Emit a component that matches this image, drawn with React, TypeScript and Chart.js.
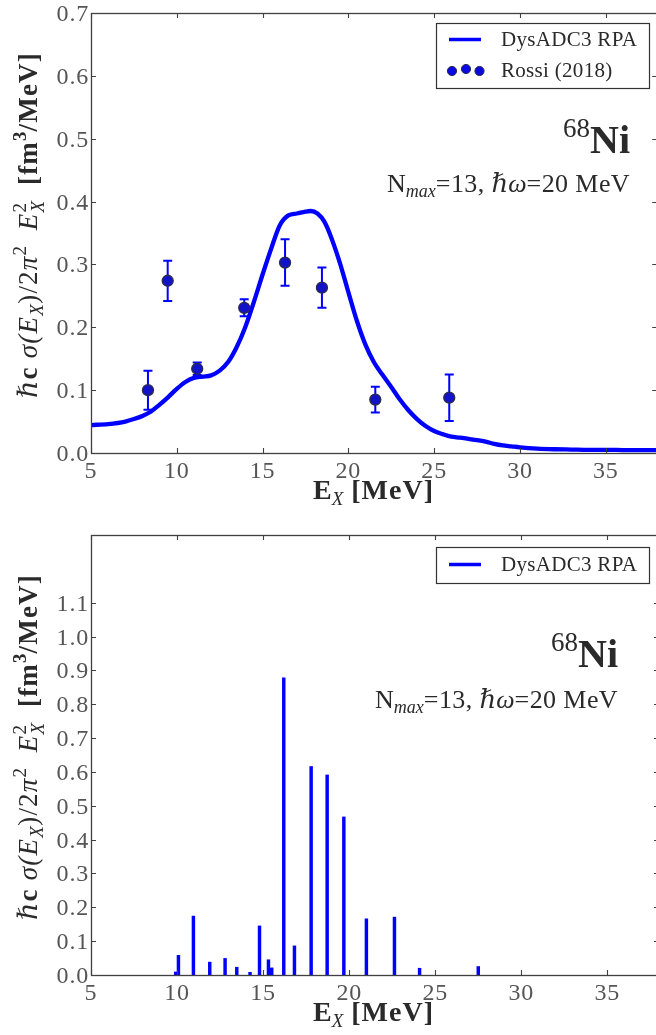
import React, { useEffect, useRef } from "react";
import { Chart, registerables } from "chart.js";

Chart.register(...registerables);

// ---------------- data ----------------
const X_TICKS = [5, 10, 15, 20, 25, 30, 35];
const X_TICK_LABELS = ["5", "10", "15", "20", "25", "30", "35"];

const TOP_Y_TICKS = [0, 0.1, 0.2, 0.3, 0.4, 0.5, 0.6, 0.7];
const TOP_Y_TICK_LABELS = ["0.0", "0.1", "0.2", "0.3", "0.4", "0.5", "0.6", "0.7"];

const BOTTOM_Y_TICKS = [0, 0.1, 0.2, 0.3, 0.4, 0.5, 0.6, 0.7, 0.8, 0.9, 1.0, 1.1];
const BOTTOM_Y_TICK_LABELS = ["0.0", "0.1", "0.2", "0.3", "0.4", "0.5", "0.6", "0.7", "0.8", "0.9", "1.0", "1.1"];

// DysADC3 RPA folded strength (top panel)
const CURVE_E = [5, 6, 7, 7.5, 8, 8.5, 9, 9.5, 10, 10.5, 11, 11.5, 12, 12.5, 13, 13.5, 14, 14.5, 15, 15.5, 16, 16.5, 17, 17.5, 17.8, 18.2, 18.6, 19, 19.5, 20, 20.5, 21, 21.5, 22, 22.5, 23, 23.5, 24, 24.5, 25, 25.5, 26, 26.5, 27, 27.5, 28, 28.5, 29, 29.5, 30, 31, 32, 33, 34, 35, 36, 37, 38];
const CURVE_Y = [0.0445, 0.046, 0.05, 0.054, 0.059, 0.066, 0.077, 0.089, 0.102, 0.113, 0.1195, 0.1215, 0.1235, 0.131, 0.145, 0.169, 0.201, 0.241, 0.284, 0.325, 0.362, 0.378, 0.381, 0.384, 0.385, 0.381, 0.368, 0.343, 0.303, 0.256, 0.21, 0.172, 0.144, 0.124, 0.105, 0.085, 0.068, 0.054, 0.043, 0.035, 0.03, 0.026, 0.0245, 0.0225, 0.0205, 0.018, 0.0145, 0.012, 0.0105, 0.009, 0.007, 0.006, 0.0055, 0.005, 0.005, 0.0047, 0.0045, 0.0045];

// Rossi (2018) experimental points
const ROSSI_E = [8.32, 9.47, 11.19, 13.93, 16.31, 18.46, 21.57, 25.88];
const ROSSI_Y = [0.1, 0.274, 0.134, 0.231, 0.303, 0.263, 0.085, 0.088];
const ROSSI_ERR = [0.031, 0.032, 0.01, 0.0135, 0.037, 0.032, 0.0205, 0.037];

// DysADC3 RPA discrete strengths (bottom panel)
const LINE_E = [9.92, 10.08, 10.95, 11.9, 12.79, 13.47, 14.24, 14.79, 15.31, 15.5, 16.2, 16.82, 17.79, 18.72, 19.69, 21.0, 22.63, 24.09, 27.5];
const LINE_S = [0.009, 0.058, 0.174, 0.038, 0.049, 0.023, 0.008, 0.145, 0.045, 0.021, 0.878, 0.086, 0.616, 0.591, 0.467, 0.166, 0.171, 0.02, 0.025];

const SERIES_CURVE = "DysADC3 RPA";
const SERIES_EXP = "Rossi (2018)";

// ---------------- styling helpers ----------------
const SERIF = "'Liberation Serif', 'DejaVu Serif', serif";
const BLUE = "#0000ff";
const TEXT = "#2a2a2a";
const TICK_TEXT = "#555555";
const AXIS = "#404040";

const f = (style: string, size: number) => `${style} ${size}px ${SERIF}`;

type Seg = { t: string; f: string; dy?: number; stack?: boolean; ls?: number };

function setLS(ctx: any, ls?: number) {
  try {
    ctx.letterSpacing = `${ls || 0}px`;
  } catch (e) {}
}

function layoutRich(ctx: CanvasRenderingContext2D, segs: Seg[]) {
  let x = 0;
  let prevStart = 0;
  const items: (Seg & { x: number })[] = [];
  for (const s of segs) {
    ctx.font = s.f;
    setLS(ctx, s.ls);
    const w = ctx.measureText(s.t).width;
    let start = x;
    if (s.stack) {
      start = prevStart;
      x = Math.max(x, start + w);
    } else {
      x = x + w;
    }
    items.push({ ...s, x: start });
    prevStart = start;
  }
  return { items, width: x };
}

function drawRich(
  ctx: CanvasRenderingContext2D,
  segs: Seg[],
  x: number,
  y: number,
  align: "left" | "center" | "right",
  color: string,
  rot = 0
) {
  ctx.save();
  const { items, width } = layoutRich(ctx, segs);
  ctx.translate(x, y);
  if (rot) ctx.rotate(rot);
  const off = align === "left" ? 0 : align === "center" ? -width / 2 : -width;
  ctx.textAlign = "left";
  ctx.textBaseline = "alphabetic";
  ctx.fillStyle = color;
  for (const it of items) {
    ctx.font = it.f;
    setLS(ctx, it.ls);
    ctx.fillText(it.t, off + it.x, it.dy || 0);
  }
  ctx.restore();
}

function yLabelSegs(S: number): Seg[] {
  const ls = 1.2;
  return [
    { t: "ℏ", f: f("italic", S), ls },
    { t: "c", f: f("bold", S), ls },
    { t: " σ(", f: f("italic", S), ls },
    { t: "E", f: f("italic", S), ls },
    { t: "X", f: f("italic", S * 0.7), dy: S * 0.22, ls: 0.5 },
    { t: ")/2", f: f("normal", S), ls },
    { t: "π", f: f("italic", S), ls },
    { t: "2", f: f("normal", S * 0.7), dy: -S * 0.42 },
    { t: "  E", f: f("italic", S), ls },
    { t: "2", f: f("normal", S * 0.7), dy: -S * 0.42 },
    { t: "X", f: f("italic", S * 0.7), dy: S * 0.25, stack: true },
    { t: "  [fm", f: f("bold", S), ls },
    { t: "3", f: f("bold", S * 0.7), dy: -S * 0.42 },
    { t: "/MeV]", f: f("bold", S), ls },
  ];
}

const X_TITLE: Seg[] = [
  { t: "E", f: f("bold", 28) },
  { t: "X", f: f("italic", 19), dy: 6 },
  { t: " [MeV]", f: f("bold", 28), ls: 1 },
];

const NI_SEGS: Seg[] = [
  { t: "68", f: f("normal", 27), dy: -16 },
  { t: "Ni", f: f("bold", 40) },
];

const NMAX_SEGS: Seg[] = [
  { t: "N", f: f("normal", 26) },
  { t: "max", f: f("italic", 18), dy: 5 },
  { t: "=13, ", f: f("normal", 26), ls: 0.4 },
  { t: "ℏω", f: f("italic", 26) },
  { t: "=20 MeV", f: f("normal", 26), ls: 0.4 },
];

interface PanelCfg {
  id: string;
  yTicks: number[];
  yTickLabels: string[];
  errors: boolean;
  legendTop: number;
  legendH: number;
  legendItems: { kind: "line" | "dots"; label: string; dy: number }[];
  niRight: number;
  niBase: number;
  nmaxBase: number;
}

function makeDecor(cfg: PanelCfg) {
  return {
    id: "decor-" + cfg.id,
    beforeDatasetDraw(chart: any, args: any) {
      if (!cfg.errors || args.index !== 0) return;
      const { ctx } = chart;
      const xs = chart.scales.x;
      const ys = chart.scales.y;
      ctx.save();
      ctx.strokeStyle = BLUE;
      ctx.lineWidth = 2;
      ROSSI_E.forEach((e, i) => {
        const px = xs.getPixelForValue(e);
        const y1 = ys.getPixelForValue(ROSSI_Y[i] - ROSSI_ERR[i]);
        const y2 = ys.getPixelForValue(ROSSI_Y[i] + ROSSI_ERR[i]);
        ctx.beginPath();
        ctx.moveTo(px, y1);
        ctx.lineTo(px, y2);
        ctx.moveTo(px - 4.5, y1);
        ctx.lineTo(px + 4.5, y1);
        ctx.moveTo(px - 4.5, y2);
        ctx.lineTo(px + 4.5, y2);
        ctx.stroke();
      });
      ctx.restore();
    },
    afterDraw(chart: any) {
      const { ctx, chartArea } = chart;
      const { left, right, top, bottom } = chartArea;
      const xs = chart.scales.x;
      const ys = chart.scales.y;
      ctx.save();
      // frame
      ctx.strokeStyle = AXIS;
      ctx.lineWidth = 1.3;
      ctx.strokeRect(left + 0.5, top + 0.5, right - left, bottom - top);
      // inward ticks
      ctx.lineWidth = 1.1;
      ctx.beginPath();
      const TL = 5;
      X_TICKS.forEach((v) => {
        const px = Math.round(xs.getPixelForValue(v)) + 0.5;
        ctx.moveTo(px, bottom);
        ctx.lineTo(px, bottom - TL);
        ctx.moveTo(px, top);
        ctx.lineTo(px, top + TL);
      });
      cfg.yTicks.forEach((v) => {
        const py = Math.round(ys.getPixelForValue(v)) + 0.5;
        ctx.moveTo(left, py);
        ctx.lineTo(left + TL, py);
        ctx.moveTo(right, py);
        ctx.lineTo(right - TL, py);
      });
      ctx.stroke();
      // tick labels
      ctx.fillStyle = TICK_TEXT;
      ctx.font = f("normal", 24);
      setLS(ctx, 0.8);
      ctx.textBaseline = "alphabetic";
      ctx.textAlign = "right";
      cfg.yTicks.forEach((v, i) => {
        const py = ys.getPixelForValue(v);
        ctx.fillText(cfg.yTickLabels[i], left - 2, py + 8);
      });
      ctx.textAlign = "center";
      X_TICKS.forEach((v, i) => {
        const px = xs.getPixelForValue(v);
        ctx.fillText(X_TICK_LABELS[i], px, bottom + 25);
      });
      setLS(ctx, 0);
      // axis titles
      drawRich(ctx, X_TITLE, (left + 656) / 2, bottom + 46, "center", TEXT);
      drawRich(ctx, yLabelSegs(27), left - 54, (top + bottom) / 2 - 8, "center", TEXT, -Math.PI / 2);
      // legend
      const lx = 436.5;
      const lw = 213;
      ctx.fillStyle = "#ffffff";
      ctx.fillRect(lx, cfg.legendTop, lw, cfg.legendH);
      ctx.strokeStyle = "#333333";
      ctx.lineWidth = 1.2;
      ctx.strokeRect(lx, cfg.legendTop, lw, cfg.legendH);
      cfg.legendItems.forEach((it) => {
        const cy = cfg.legendTop + it.dy;
        if (it.kind === "line") {
          ctx.strokeStyle = BLUE;
          ctx.lineWidth = 3.5;
          ctx.beginPath();
          ctx.moveTo(449, cy);
          ctx.lineTo(481, cy);
          ctx.stroke();
        } else {
          const pts = [
            [452, cy + 0.5],
            [466, cy - 1.5],
            [479.5, cy + 0.5],
          ];
          pts.forEach(([px, py]) => {
            ctx.beginPath();
            ctx.arc(px, py, 4.6, 0, Math.PI * 2);
            ctx.fillStyle = "#0a0ae0";
            ctx.fill();
            ctx.strokeStyle = "#2b2b4a";
            ctx.lineWidth = 1;
            ctx.stroke();
          });
        }
        ctx.fillStyle = TEXT;
        ctx.font = f("normal", 21);
        setLS(ctx, 0.3);
        ctx.textAlign = "left";
        ctx.textBaseline = "middle";
        ctx.fillText(it.label, 501, cy + 1);
        setLS(ctx, 0);
      });
      // annotations
      drawRich(ctx, NI_SEGS, cfg.niRight, cfg.niBase, "right", TEXT);
      drawRich(ctx, NMAX_SEGS, cfg.niRight, cfg.nmaxBase, "right", TEXT);
      ctx.restore();
    },
  };
}

export default function App() {
  const topRef = useRef<HTMLCanvasElement>(null);
  const botRef = useRef<HTMLCanvasElement>(null);

  useEffect(() => {
    const common = {
      animation: false as const,
      responsive: false,
      devicePixelRatio: 1,
      events: [] as any[],
      plugins: { legend: { display: false }, tooltip: { enabled: false } },
    };

    const topChart = new Chart(topRef.current as HTMLCanvasElement, {
      type: "scatter",
      data: {
        datasets: [
          {
            type: "scatter",
            label: SERIES_EXP,
            data: ROSSI_E.map((e, i) => ({ x: e, y: ROSSI_Y[i] })),
            pointRadius: 5.5,
            pointBackgroundColor: "#1212c8",
            pointBorderColor: "#2b2b4a",
            pointBorderWidth: 1.3,
          } as any,
          {
            type: "line",
            label: SERIES_CURVE,
            data: CURVE_E.map((e, i) => ({ x: e, y: CURVE_Y[i] })),
            borderColor: BLUE,
            borderWidth: 4.3,
            pointRadius: 0,
            fill: false,
            cubicInterpolationMode: "monotone",
          } as any,
        ],
      },
      options: {
        ...common,
        layout: { padding: { left: 91, top: 13, right: 5, bottom: 64 } },
        scales: {
          x: { type: "linear", min: 5, max: 38, display: false, offset: false },
          y: { type: "linear", min: 0, max: 0.7, display: false },
        },
      } as any,
      plugins: [
        makeDecor({
          id: "top",
          yTicks: TOP_Y_TICKS,
          yTickLabels: TOP_Y_TICK_LABELS,
          errors: true,
          legendTop: 23.5,
          legendH: 65,
          legendItems: [
            { kind: "line", label: SERIES_CURVE, dy: 16 },
            { kind: "dots", label: SERIES_EXP, dy: 47 },
          ],
          niRight: 630,
          niBase: 153,
          nmaxBase: 192,
        }) as any,
      ],
    });

    const botChart = new Chart(botRef.current as HTMLCanvasElement, {
      type: "bar",
      data: {
        datasets: [
          {
            label: SERIES_CURVE,
            data: LINE_E.map((e, i) => ({ x: e, y: LINE_S[i] })),
            backgroundColor: BLUE,
            borderWidth: 0,
            barThickness: 2.8,
            grouped: false,
          } as any,
        ],
      },
      options: {
        ...common,
        layout: { padding: { left: 91, top: 18, right: 5, bottom: 60 } },
        scales: {
          x: { type: "linear", min: 5, max: 38, display: false, offset: false, grid: { offset: false } },
          y: { type: "linear", min: 0, max: 1.3, display: false },
        },
      } as any,
      plugins: [
        makeDecor({
          id: "bottom",
          yTicks: BOTTOM_Y_TICKS,
          yTickLabels: BOTTOM_Y_TICK_LABELS,
          errors: false,
          legendTop: 30.5,
          legendH: 36,
          legendItems: [{ kind: "line", label: SERIES_CURVE, dy: 17 }],
          niRight: 618,
          niBase: 150,
          nmaxBase: 191,
        }) as any,
      ],
    });

    return () => {
      topChart.destroy();
      botChart.destroy();
    };
  }, []);

  return (
    <div
      style={{
        position: "absolute",
        left: 0,
        top: 0,
        width: 656,
        height: 1035,
        overflow: "hidden",
        background: "#ffffff",
      }}
    >
      <canvas
        ref={topRef}
        width={664}
        height={517}
        style={{ position: "absolute", left: 0, top: 0, width: 664, height: 517 }}
      />
      <canvas
        ref={botRef}
        width={664}
        height={518}
        style={{ position: "absolute", left: 0, top: 517, width: 664, height: 518 }}
      />
    </div>
  );
}
